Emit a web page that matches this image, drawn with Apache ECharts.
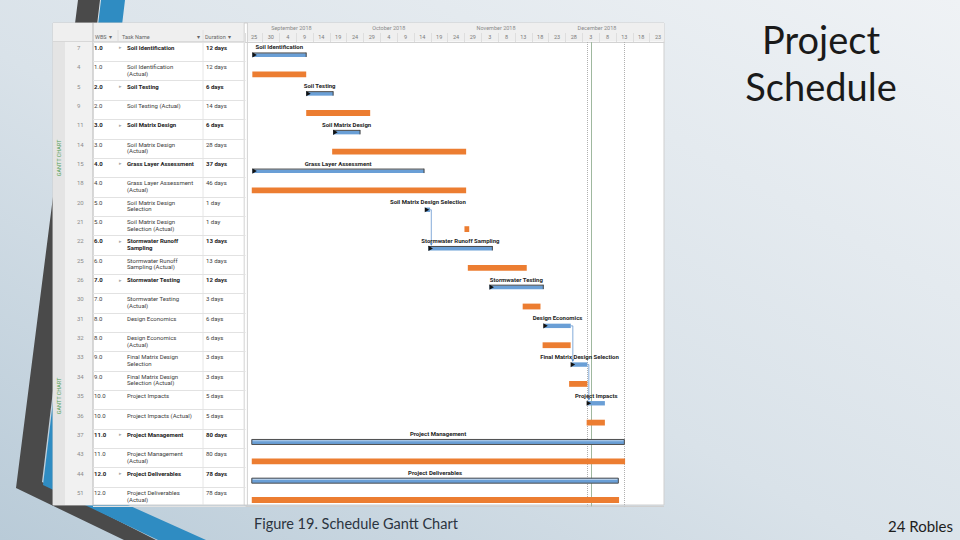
<!DOCTYPE html>
<html><head><meta charset="utf-8">
<script src="https://cdn.jsdelivr.net/npm/echarts@6/dist/echarts.min.js"></script>
<style>html,body{margin:0;padding:0;background:#e6ecf1;}#c{width:960px;height:540px;}</style>
</head><body><div id="c"></div>
<script>
// ---------------- data ----------------
const axisStart = '2018-08-25';
const ids = ['7','4','5','9','11','14','15','18','20','21','22','25','26','30','31','32','33','34','35','36','37','43','44','51'];
const wbs = ['1.0','1.0','2.0','2.0','3.0','3.0','4.0','4.0','5.0','5.0','6.0','6.0','7.0','7.0','8.0','8.0','9.0','9.0','10.0','10.0','11.0','11.0','12.0','12.0'];
const taskNames = [
  'Soil Identification','Soil Identification\n(Actual)','Soil Testing','Soil Testing (Actual)',
  'Soil Matrix Design','Soil Matrix Design\n(Actual)','Grass Layer Assessment','Grass Layer Assessment\n(Actual)',
  'Soil Matrix Design\nSelection','Soil Matrix Design\nSelection (Actual)','Stormwater Runoff\nSampling','Stormwater Runoff\nSampling (Actual)',
  'Stormwater Testing','Stormwater Testing\n(Actual)','Design Economics','Design Economics\n(Actual)',
  'Final Matrix Design\nSelection','Final Matrix Design\nSelection (Actual)','Project Impacts','Project Impacts (Actual)',
  'Project Management','Project Management\n(Actual)','Project Deliverables','Project Deliverables\n(Actual)'
];
const durations = ['12 days','12 days','6 days','14 days','6 days','28 days','37 days','46 days','1 day','1 day','13 days','13 days',
  '12 days','3 days','6 days','6 days','3 days','3 days','5 days','5 days','80 days','80 days','78 days','78 days'];
const starts = ['2018-08-27','2018-08-27','2018-09-12','2018-09-12','2018-09-20','2018-09-19 17','2018-08-27','2018-08-26 20',
  '2018-10-17 12','2018-10-29','2018-10-18 07','2018-10-30','2018-11-05 10','2018-11-15 07','2018-11-21 17','2018-11-21 05',
  '2018-11-29 20','2018-11-29 02','2018-12-04 14','2018-12-04 07','2018-08-26 20','2018-08-26 20','2018-08-26 20','2018-08-26 20'];
const ends = ['2018-09-12','2018-09-12','2018-09-20','2018-10-01','2018-09-28','2018-10-29 12','2018-10-17','2018-10-29 12',
  '2018-10-18 19','2018-10-30 10','2018-11-06 07','2018-11-16 12','2018-11-21 10','2018-11-20 14','2018-11-29 14','2018-11-29 13',
  '2018-12-04 12','2018-12-04 12','2018-12-09 17','2018-12-09 17','2018-12-15 12','2018-12-15 17','2018-12-13 17','2018-12-13 22'];
const isActual  = [0,1,0,1,0,1,0,1,0,1,0,1,0,1,0,1,0,1,0,1,0,1,0,1];
const isSummary = [1,0,1,0,1,0,1,0,0,0,1,0,1,0,0,0,0,0,0,0,1,0,1,0];
const isBoxBar  = [0,0,0,0,0,0,0,0,0,0,0,0,0,0,0,0,0,0,0,0,1,0,1,0];
const links = [[8,10],[14,16],[16,18]];
const monthStarts = ['2018-09-01','2018-10-01','2018-11-01','2018-12-01'];
const monthLabels = ['September 2018','October 2018','November 2018','December 2018'];
const tableHeaders = ['WBS  \u25BE','Task Name','\u25BE','Duration  \u25BE'];
const markerDates = ['2018-12-04 10','2018-12-05 14','2018-12-15 10'];
const markerTypes = ['dotted','solid','dotted'];

// ---------------- helpers ----------------
function dayNum(s){
  const p = s.split(' '); const d = p[0].split('-').map(Number); const h = p[1] ? +p[1] : 0;
  const o = axisStart.split('-').map(Number);
  return (Date.UTC(d[0], d[1]-1, d[2], h) - Date.UTC(o[0], o[1]-1, o[2])) / 864e5;
}
const rowKeys = taskNames.map(n => n.replace('\n',' '));
const PXD = 3.367;          // pixels per day in the layout
const G0 = {left:245.6, top:42, width:418.4, height:464.4};
const G1 = {left:93, top:42, width:152.6, height:464.4};
const xMax = G0.width / PXD;
const monthVals = monthStarts.map(dayNum);

const F = 'Roboto';
const base = {fontFamily:F, fontSize:6, lineHeight:6.6, color:'#3c3c3c', align:'left'};
const rich = {
  s0:{...base, width:9},
  id:{...base, width:17, color:'#8c8c8c'},
  w:{...base, width:25},
  wb:{...base, width:25, fontWeight:'bold', color:'#222'},
  a:{...base, width:8, color:'#a8a8a8', fontSize:5},
  n:{...base, width:79},
  nb:{...base, width:79, fontWeight:'bold', color:'#222'},
  d:{...base, width:40},
  db:{...base, width:40, fontWeight:'bold', color:'#222'},
  sp:{...base, width:59}
};
function tableLabel(v, i){
  const b = isSummary[i] ? 'b' : '';
  const parts = taskNames[i].split('\n');
  const l1 = '{s0|}{id|' + ids[i] + '}{w' + b + '|' + wbs[i] + '}{a|' + (isSummary[i] ? '\u25B8' : '') + '}{n' + b + '|' + parts[0] + '}{d' + b + '|' + durations[i] + '}';
  const l2 = '{sp|}{n' + b + '|' + (parts[1] || '') + '}';
  return l1 + '\n' + l2;
}

const BLUE = '#6a9fd6', ORANGE = '#ec7d31';
function renderBar(params, api){
  const i = api.value(2);
  const s = api.coord([api.value(0), i]);
  const e = api.coord([api.value(1), i]);
  const bh = api.size([0,1])[1];
  const cy = s[1] + bh*0.17;
  const w = Math.max(e[0]-s[0], 2.5);
  const ch = [];
  if (api.value(3)) {
    ch.push({type:'rect', shape:{x:s[0], y:cy-2.9, width:w, height:5.8}, style:{fill:ORANGE}});
  } else {
    if (api.value(5)) {
      ch.push({type:'rect', shape:{x:s[0], y:cy-2.5, width:w, height:5}, style:{fill:BLUE, stroke:'#4f4f4f', lineWidth:1}});
      ch.push({type:'line', shape:{x1:s[0]+1, y1:cy-1.2, x2:s[0]+w-1, y2:cy-1.2}, style:{stroke:'#c9dcf0', lineWidth:0.8}});
    } else if (api.value(4)) {
      ch.push({type:'rect', shape:{x:s[0], y:cy-1.6, width:w, height:3.6}, style:{fill:BLUE}});
      ch.push({type:'line', shape:{x1:s[0], y1:cy-2, x2:s[0]+w, y2:cy-2}, style:{stroke:'#333', lineWidth:0.9}});
      ch.push({type:'line', shape:{x1:s[0]+w, y1:cy-2.4, x2:s[0]+w, y2:cy+2}, style:{stroke:'#333', lineWidth:0.9}});
      ch.push({type:'polygon', shape:{points:[[s[0],cy-2.6],[s[0]+4.5,cy],[s[0],cy+2.6]]}, style:{fill:'#111'}});
    } else {
      ch.push({type:'rect', shape:{x:s[0], y:cy-2.2, width:w, height:4.4}, style:{fill:BLUE}});
      ch.push({type:'polygon', shape:{points:[[s[0]-1,cy-2.6],[s[0]+3.5,cy],[s[0]-1,cy+2.6]]}, style:{fill:'#111'}});
    }
    ch.push({type:'text', style:{text:rowKeys[i], x:s[0]+w/2, y:s[1]-bh*0.243, align:'center', verticalAlign:'middle',
      fontFamily:F, fontSize:6, fontWeight:'bold', fill:'#1e1e1e'}});
  }
  return {type:'group', children:ch};
}
function renderLink(params, api){
  const p = api.value(1), q = api.value(3);
  const a = api.coord([api.value(0), p]);
  const b = api.coord([api.value(2), q]);
  const bh = api.size([0,1])[1];
  const y0 = a[1] + bh*0.17, y1 = b[1] + bh*0.17 - 2.6;
  const x = Math.max(a[0], b[0]) + 1.2;
  return {type:'group', children:[
    {type:'polyline', shape:{points:[[a[0],y0],[x,y0],[x,y1-2]]}, style:{stroke:'#4f87c9', lineWidth:0.7, fill:null}},
    {type:'polygon', shape:{points:[[x-1.5,y1-2.6],[x+1.5,y1-2.6],[x,y1]]}, style:{fill:'#4f87c9'}}
  ]};
}

// ---------------- chart ----------------
const chart = echarts.init(document.getElementById('c'), null, {renderer:'svg', width:960, height:540});
const option = {
  animation:false,
  backgroundColor:{type:'linear', x:0, y:1, x2:1, y2:0, colorStops:[
    {offset:0, color:'#b9cbd8'},{offset:0.45, color:'#d9e2e9'},{offset:1, color:'#eff2f5'}]},
  title:[
    {text:'Project\nSchedule', left:816, top:10, textAlign:'center',
      textStyle:{fontFamily:'Lato', fontSize:38, fontWeight:'normal', color:'#1a1a1a', lineHeight:47}},
    {text:'Figure 19. Schedule Gantt Chart', left:249, top:511,
      textStyle:{fontFamily:'Lato', fontSize:14.5, fontWeight:'normal', color:'#2b3440'}},
    {text:'24 Robles', right:2, top:513,
      textStyle:{fontFamily:'Lato', fontSize:15, fontWeight:'normal', color:'#1e1e1e'}}
  ],
  grid:[
    {left:G0.left, top:G0.top, width:G0.width, height:G0.height, containLabel:false},
    {left:G1.left, top:G1.top, width:G1.width, height:G1.height, containLabel:false}
  ],
  xAxis:[
    {gridIndex:0, type:'value', position:'top', min:0, max:xMax, interval:5,
      axisLine:{show:true, lineStyle:{color:'#d2d2d2'}},
      axisTick:{show:true, length:9, lineStyle:{color:'#dedede'}},
      splitLine:{show:false},
      axisLabel:{margin:2.5, align:'left', fontFamily:F, fontSize:5.5, color:'#7a7a7a',
        formatter:function(v){
          if (Math.abs(v - Math.round(v/5)*5) > 1e-6) return '';
          const o = axisStart.split('-').map(Number);
          const dt = new Date(Date.UTC(o[0], o[1]-1, o[2]) + v*864e5);
          return '{d|' + dt.getUTCDate() + '}';
        },
        rich:{d:{width:5*PXD, align:'center', fontFamily:F, fontSize:5.5, color:'#7a7a7a'}}}},
    {gridIndex:0, type:'value', position:'top', offset:9, min:0, max:xMax,
      axisLine:{show:false}, axisTick:{show:false}, splitLine:{show:false},
      axisLabel:{customValues:monthVals, margin:2, align:'left', padding:[0,0,0,2], fontFamily:F, fontSize:5.5, color:'#8a8a8a',
        formatter:function(v){ const k = monthVals.findIndex(m => Math.abs(m - v) < 1e-6); return k >= 0 ? monthLabels[k] : ''; }}},
    {gridIndex:1, type:'value', min:0, max:1, show:false}
  ],
  yAxis:[
    {gridIndex:0, type:'category', inverse:true, data:rowKeys,
      axisLine:{show:false}, axisTick:{show:false}, axisLabel:{show:false},
      splitLine:{show:true, interval:function(i){ return i === 12; }, lineStyle:{color:'#cfcfcf'}}},
    {gridIndex:1, type:'category', inverse:true, data:rowKeys,
      axisLine:{show:false}, axisTick:{show:false},
      splitLine:{show:true, interval:0, lineStyle:{color:'#e2e2e2'}},
      axisLabel:{interval:0, align:'left', margin:25, padding:[0,0,2,0], formatter:tableLabel, rich:rich,
        fontFamily:F, fontSize:6, lineHeight:6.6, color:'#3c3c3c'}}
  ],
  series:[
    {type:'custom', xAxisIndex:0, yAxisIndex:0, clip:false, renderItem:renderBar, encode:{x:[0,1], y:2},
      data: rowKeys.map((k,i) => [dayNum(starts[i]), dayNum(ends[i]), i, isActual[i], isSummary[i], isBoxBar[i]]), z:5},
    {type:'custom', xAxisIndex:0, yAxisIndex:0, clip:false, renderItem:renderLink, encode:{x:[0,2], y:[1,3]},
      data: links.map(l => [dayNum(ends[l[0]]), l[0], dayNum(starts[l[1]]), l[1]]), z:4},
    {type:'line', xAxisIndex:0, yAxisIndex:0, data:[], silent:true,
      markLine:{symbol:'none', silent:true, label:{show:false},
        data: markerDates.map((d,k) => ({xAxis:dayNum(d), lineStyle:{type:markerTypes[k], color: markerTypes[k]==='solid' ? '#9fb89f' : '#b0b0b0', width:1}}))}}
  ],
  graphic:[
    // slide decoration stripes
    {type:'polygon', z:-20, silent:true, shape:{points:[[78,0],[100,0],[42,482],[156,540],[124,540],[16,488]]}, style:{fill:'#4a4a4a'}},
    {type:'polygon', z:-20, silent:true, shape:{points:[[101,0],[125,0],[68,478],[206,540],[158,540],[43,485]]}, style:{fill:'#2f8cc2'}},
    // panel
    {type:'rect', z:-10, silent:true, shape:{x:53, y:23, width:611, height:482}, style:{fill:'#ffffff', stroke:'#cfcfcf', lineWidth:1}},
    {type:'rect', z:-9, silent:true, shape:{x:53, y:23, width:40, height:482}, style:{fill:'#f1f1f1'}},
    {type:'rect', z:-9, silent:true, shape:{x:53, y:23, width:12, height:482}, style:{fill:'#e4e4e4'}},
    {type:'rect', z:-9, silent:true, shape:{x:53, y:23, width:611, height:18.5}, style:{fill:'#efefef'}},
    {type:'line', z:-8, silent:true, shape:{x1:93, y1:23, x2:93, y2:505}, style:{stroke:'#cbcbcb', lineWidth:1.5}},
    {type:'line', z:-8, silent:true, shape:{x1:118, y1:30, x2:118, y2:41}, style:{stroke:'#d8d8d8', lineWidth:0.8}},
    {type:'line', z:-8, silent:true, shape:{x1:203, y1:30, x2:203, y2:505}, style:{stroke:'#e0e0e0', lineWidth:0.8}},
    {type:'rect', z:-8, silent:true, shape:{x:244.2, y:23, width:3.2, height:482}, style:{fill:'#ffffff', stroke:'#c6c6c6', lineWidth:0.8}},
    {type:'line', z:-8, silent:true, shape:{x1:53, y1:41.5, x2:244, y2:41.5}, style:{stroke:'#d2d2d2', lineWidth:0.8}},
    // table header texts
    {type:'text', silent:true, style:{text:tableHeaders[0], x:95, y:37, verticalAlign:'middle', fontFamily:F, fontSize:5.5, fill:'#666'}},
    {type:'text', silent:true, style:{text:tableHeaders[1], x:122, y:37, verticalAlign:'middle', fontFamily:F, fontSize:5.5, fill:'#666'}},
    {type:'text', silent:true, style:{text:tableHeaders[2], x:197, y:37, verticalAlign:'middle', fontFamily:F, fontSize:5.5, fill:'#666'}},
    {type:'text', silent:true, style:{text:tableHeaders[3], x:205, y:37, verticalAlign:'middle', fontFamily:F, fontSize:5.5, fill:'#666'}},
    // vertical view labels
    {type:'text', silent:true, x:58.5, y:158, rotation:Math.PI/2, style:{text:'GANTT CHART', align:'center', verticalAlign:'middle', fontFamily:F, fontSize:5.5, fill:'#4f9e55'}},
    {type:'text', silent:true, x:58.5, y:396, rotation:Math.PI/2, style:{text:'GANTT CHART', align:'center', verticalAlign:'middle', fontFamily:F, fontSize:5.5, fill:'#4f9e55'}}
  ]
};
chart.setOption(option);
</script>
</body></html>
